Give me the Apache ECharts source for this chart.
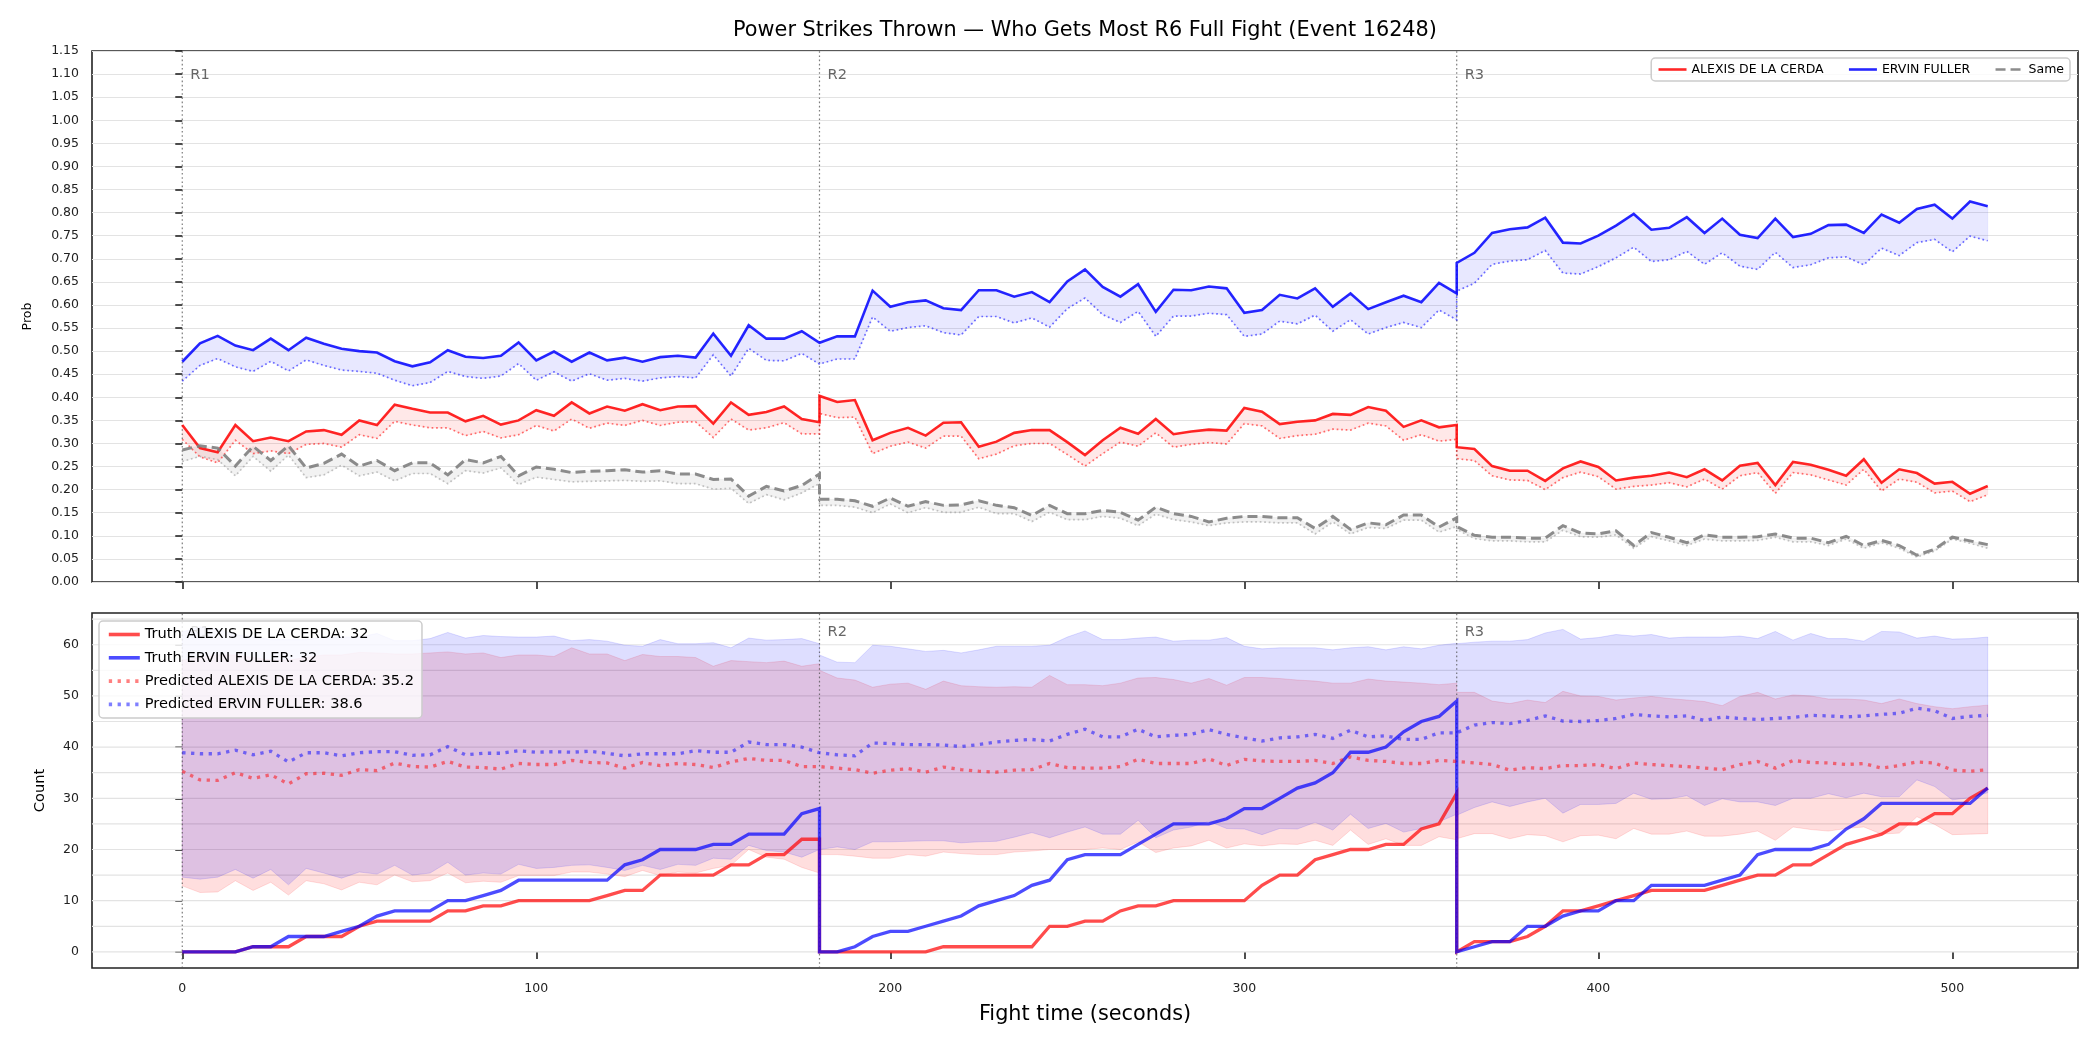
<!DOCTYPE html>
<html>
<head>
<meta charset="utf-8">
<title>Power Strikes Thrown</title>
<script src="https://cdn.jsdelivr.net/npm/echarts@6/dist/echarts.min.js"></script>
<style>
  html, body { margin: 0; padding: 0; background: #fff; }
  #chart { width: 2100px; height: 1050px; }
</style>
</head>
<body>
<div id="chart"></div>
<script>
// fight time in seconds; round boundaries (180, 360) appear twice: end of one round, start of the next
const fightTime = [
  0, 5, 10, 15, 20, 25, 30, 35, 40, 45, 50, 55, 60, 65, 70, 75, 80, 85, 90, 95, 100, 105, 110, 115, 120, 125, 130, 135, 140, 145, 150, 155, 160, 165, 170, 175, 180,
  180, 185, 190, 195, 200, 205, 210, 215, 220, 225, 230, 235, 240, 245, 250, 255, 260, 265, 270, 275, 280, 285, 290, 295, 300, 305, 310, 315, 320, 325, 330, 335, 340, 345, 350, 355, 360,
  360, 365, 370, 375, 380, 385, 390, 395, 400, 405, 410, 415, 420, 425, 430, 435, 440, 445, 450, 455, 460, 465, 470, 475, 480, 485, 490, 495, 500, 505, 510
];

const roundStart = [0, 180, 360];
const roundLabel = ['R1', 'R2', 'R3'];

const fighterRed = 'ALEXIS DE LA CERDA';
const fighterBlue = 'ERVIN FULLER';

// ---- top panel: probability of throwing the most power strikes ----
const redProb = [
  0.340, 0.290, 0.281, 0.340, 0.305, 0.313, 0.305, 0.326, 0.329, 0.319, 0.350, 0.340, 0.384, 0.375, 0.367, 0.367, 0.348, 0.360, 0.341, 0.350, 0.372, 0.360, 0.389, 0.365, 0.380, 0.371, 0.385, 0.372, 0.380, 0.381, 0.343, 0.389, 0.362, 0.368, 0.380, 0.353, 0.346,
  0.403, 0.390, 0.394, 0.307, 0.323, 0.334, 0.317, 0.345, 0.346, 0.293, 0.304, 0.323, 0.329, 0.329, 0.303, 0.275, 0.307, 0.334, 0.321, 0.353, 0.320, 0.326, 0.330, 0.328, 0.377, 0.369, 0.342, 0.347, 0.350, 0.364, 0.362, 0.379, 0.371, 0.336, 0.350, 0.335, 0.340,
  0.292, 0.288, 0.251, 0.241, 0.241, 0.219, 0.246, 0.261, 0.249, 0.220, 0.226, 0.230, 0.237, 0.227, 0.244, 0.220, 0.252, 0.258, 0.210, 0.260, 0.254, 0.243, 0.230, 0.266, 0.215, 0.244, 0.236, 0.213, 0.217, 0.191, 0.208
];
const redProbLow = [
  0.309, 0.271, 0.258, 0.307, 0.278, 0.284, 0.278, 0.298, 0.300, 0.292, 0.319, 0.311, 0.348, 0.340, 0.334, 0.334, 0.317, 0.326, 0.312, 0.319, 0.339, 0.327, 0.353, 0.333, 0.344, 0.339, 0.350, 0.339, 0.346, 0.347, 0.313, 0.353, 0.329, 0.334, 0.345, 0.321, 0.321,
  0.365, 0.356, 0.357, 0.278, 0.294, 0.303, 0.290, 0.316, 0.316, 0.267, 0.277, 0.295, 0.300, 0.300, 0.276, 0.251, 0.278, 0.303, 0.294, 0.323, 0.292, 0.298, 0.302, 0.299, 0.343, 0.338, 0.311, 0.317, 0.320, 0.331, 0.329, 0.344, 0.338, 0.307, 0.319, 0.305, 0.309,
  0.267, 0.263, 0.230, 0.221, 0.220, 0.200, 0.226, 0.238, 0.228, 0.201, 0.207, 0.210, 0.215, 0.206, 0.223, 0.201, 0.230, 0.237, 0.192, 0.237, 0.232, 0.221, 0.210, 0.244, 0.197, 0.223, 0.216, 0.193, 0.197, 0.174, 0.189
];
const blueProb = [
  0.477, 0.517, 0.533, 0.512, 0.502, 0.527, 0.502, 0.529, 0.516, 0.505, 0.500, 0.497, 0.478, 0.467, 0.476, 0.502, 0.488, 0.485, 0.490, 0.519, 0.480, 0.499, 0.477, 0.497, 0.480, 0.486, 0.477, 0.487, 0.490, 0.486, 0.538, 0.490, 0.556, 0.527, 0.527, 0.543, 0.518,
  0.518, 0.532, 0.532, 0.631, 0.596, 0.606, 0.610, 0.593, 0.589, 0.632, 0.632, 0.618, 0.628, 0.606, 0.651, 0.677, 0.639, 0.618, 0.645, 0.585, 0.633, 0.632, 0.640, 0.636, 0.583, 0.589, 0.622, 0.614, 0.636, 0.596, 0.625, 0.591, 0.606, 0.620, 0.606, 0.648, 0.625,
  0.691, 0.713, 0.756, 0.764, 0.768, 0.789, 0.735, 0.733, 0.750, 0.772, 0.797, 0.763, 0.767, 0.790, 0.756, 0.787, 0.752, 0.745, 0.787, 0.747, 0.754, 0.773, 0.774, 0.756, 0.796, 0.778, 0.808, 0.817, 0.787, 0.824, 0.814
];
const blueProbLow = [
  0.435, 0.469, 0.484, 0.466, 0.456, 0.478, 0.457, 0.481, 0.469, 0.459, 0.456, 0.452, 0.437, 0.425, 0.432, 0.456, 0.445, 0.441, 0.446, 0.473, 0.437, 0.455, 0.435, 0.451, 0.437, 0.441, 0.435, 0.442, 0.445, 0.442, 0.492, 0.446, 0.506, 0.480, 0.479, 0.495, 0.472,
  0.472, 0.483, 0.483, 0.574, 0.543, 0.551, 0.555, 0.540, 0.535, 0.575, 0.575, 0.561, 0.572, 0.552, 0.592, 0.615, 0.579, 0.562, 0.586, 0.532, 0.576, 0.576, 0.582, 0.579, 0.532, 0.537, 0.565, 0.559, 0.578, 0.543, 0.568, 0.537, 0.551, 0.562, 0.551, 0.589, 0.568,
  0.630, 0.647, 0.688, 0.695, 0.698, 0.718, 0.669, 0.667, 0.683, 0.702, 0.725, 0.694, 0.698, 0.716, 0.688, 0.713, 0.684, 0.677, 0.714, 0.681, 0.687, 0.702, 0.704, 0.687, 0.723, 0.707, 0.735, 0.742, 0.715, 0.749, 0.739
];
const sameProb = [
  0.286, 0.295, 0.290, 0.251, 0.294, 0.263, 0.295, 0.247, 0.257, 0.277, 0.251, 0.263, 0.241, 0.258, 0.258, 0.232, 0.265, 0.258, 0.272, 0.230, 0.249, 0.244, 0.237, 0.240, 0.241, 0.243, 0.238, 0.241, 0.234, 0.234, 0.222, 0.223, 0.186, 0.207, 0.197, 0.209, 0.234,
  0.179, 0.179, 0.176, 0.164, 0.182, 0.164, 0.174, 0.166, 0.167, 0.176, 0.166, 0.161, 0.144, 0.166, 0.148, 0.148, 0.155, 0.151, 0.134, 0.162, 0.148, 0.142, 0.130, 0.138, 0.142, 0.142, 0.139, 0.139, 0.116, 0.142, 0.114, 0.128, 0.124, 0.145, 0.145, 0.119, 0.139,
  0.120, 0.101, 0.097, 0.097, 0.095, 0.095, 0.122, 0.106, 0.104, 0.111, 0.079, 0.107, 0.097, 0.085, 0.102, 0.097, 0.097, 0.098, 0.104, 0.095, 0.095, 0.085, 0.099, 0.079, 0.090, 0.079, 0.058, 0.071, 0.097, 0.089, 0.081
];
const sameProbLow = [
  0.261, 0.272, 0.265, 0.230, 0.272, 0.240, 0.275, 0.226, 0.232, 0.253, 0.230, 0.238, 0.219, 0.235, 0.235, 0.213, 0.241, 0.236, 0.247, 0.211, 0.227, 0.222, 0.217, 0.218, 0.219, 0.220, 0.218, 0.219, 0.213, 0.213, 0.201, 0.203, 0.170, 0.189, 0.178, 0.193, 0.213,
  0.166, 0.166, 0.162, 0.150, 0.169, 0.150, 0.161, 0.151, 0.151, 0.162, 0.148, 0.148, 0.131, 0.151, 0.135, 0.135, 0.142, 0.138, 0.122, 0.147, 0.135, 0.130, 0.122, 0.128, 0.130, 0.130, 0.128, 0.128, 0.104, 0.130, 0.104, 0.118, 0.116, 0.134, 0.134, 0.108, 0.120,
  0.114, 0.094, 0.089, 0.089, 0.087, 0.087, 0.112, 0.098, 0.097, 0.102, 0.073, 0.098, 0.089, 0.079, 0.093, 0.089, 0.089, 0.090, 0.097, 0.087, 0.087, 0.079, 0.093, 0.073, 0.085, 0.073, 0.054, 0.067, 0.093, 0.084, 0.073
];

// ---- bottom panel: cumulative power strikes per round ----
const truthRed = [
  0, 0, 0, 0, 1, 1, 1, 3, 3, 3, 5, 6, 6, 6, 6, 8, 8, 9, 9, 10, 10, 10, 10, 10, 11, 12, 12, 15, 15, 15, 15, 17, 17, 19, 19, 22, 22,
  0, 0, 0, 0, 0, 0, 0, 1, 1, 1, 1, 1, 1, 5, 5, 6, 6, 8, 9, 9, 10, 10, 10, 10, 10, 13, 15, 15, 18, 19, 20, 20, 21, 21, 24, 25, 31,
  0, 2, 2, 2, 3, 5, 8, 8, 9, 10, 11, 12, 12, 12, 12, 13, 14, 15, 15, 17, 17, 19, 21, 22, 23, 25, 25, 27, 27, 30, 32
];
const truthBlue = [
  0, 0, 0, 0, 1, 1, 3, 3, 3, 4, 5, 7, 8, 8, 8, 10, 10, 11, 12, 14, 14, 14, 14, 14, 14, 17, 18, 20, 20, 20, 21, 21, 23, 23, 23, 27, 28,
  0, 0, 1, 3, 4, 4, 5, 6, 7, 9, 10, 11, 13, 14, 18, 19, 19, 19, 21, 23, 25, 25, 25, 26, 28, 28, 30, 32, 33, 35, 39, 39, 40, 43, 45, 46, 49,
  0, 1, 2, 2, 5, 5, 7, 8, 8, 10, 10, 13, 13, 13, 13, 14, 15, 19, 20, 20, 20, 21, 24, 26, 29, 29, 29, 29, 29, 29, 32
];
const predRed = [
  35.3, 33.6, 33.5, 35.0, 33.9, 34.6, 32.8, 34.8, 34.9, 34.5, 35.6, 35.4, 36.9, 36.2, 36.1, 37.2, 36.1, 36.0, 35.7, 36.8, 36.6, 36.6, 37.4, 37.0, 36.9, 35.9, 37.0, 36.4, 36.8, 36.6, 36.0, 37.1, 37.8, 37.4, 37.4, 36.2, 36.2,
  36.2, 35.9, 35.6, 34.9, 35.5, 35.8, 35.1, 36.1, 35.6, 35.3, 35.1, 35.5, 35.6, 36.8, 36.0, 35.9, 35.9, 36.2, 37.6, 36.8, 36.8, 36.8, 37.7, 36.4, 37.6, 37.3, 37.2, 37.2, 37.4, 36.8, 38.1, 37.4, 37.2, 36.8, 36.8, 37.4, 37.2,
  37.2, 36.9, 36.6, 35.5, 36.0, 35.8, 36.4, 36.4, 36.6, 35.8, 36.9, 36.6, 36.4, 36.2, 35.9, 35.6, 36.6, 37.2, 35.9, 37.4, 37.0, 36.9, 36.6, 36.8, 35.9, 36.4, 37.1, 36.9, 35.5, 35.3, 35.6
];
const predBlue = [
  38.9, 38.7, 38.7, 39.4, 38.5, 39.2, 37.1, 38.9, 38.9, 38.3, 38.9, 39.1, 39.1, 38.4, 38.5, 40.1, 38.5, 38.8, 38.8, 39.3, 39.0, 39.1, 39.0, 39.2, 38.8, 38.3, 38.7, 38.7, 38.7, 39.3, 39.0, 39.0, 41.0, 40.5, 40.5, 40.0, 38.9,
  38.9, 38.5, 38.3, 40.8, 40.7, 40.5, 40.5, 40.4, 40.1, 40.5, 41.0, 41.3, 41.5, 41.2, 42.5, 43.5, 42.0, 42.0, 43.5, 42.0, 42.3, 42.5, 43.4, 42.5, 41.8, 41.2, 41.8, 42.0, 42.5, 41.7, 43.3, 42.0, 42.2, 41.5, 41.5, 42.8, 42.8,
  42.8, 44.3, 44.8, 44.6, 45.2, 46.1, 45.1, 45.0, 45.2, 45.6, 46.4, 46.1, 45.9, 46.1, 45.2, 45.9, 45.6, 45.4, 45.6, 45.8, 46.2, 46.1, 45.9, 46.1, 46.4, 46.6, 47.6, 47.1, 45.6, 46.0, 46.2
];
const redLow = [
  12.9, 11.6, 11.7, 13.9, 12.0, 13.6, 11.1, 13.9, 13.3, 12.1, 13.6, 13.1, 15.0, 13.7, 13.9, 15.4, 13.5, 13.8, 13.6, 14.9, 14.9, 14.9, 15.6, 15.6, 15.2, 14.7, 15.9, 14.9, 15.6, 15.4, 16.3, 16.9, 20.0, 18.5, 18.1, 16.5, 15.4,
  19.0, 19.0, 18.7, 18.3, 18.3, 19.0, 18.7, 19.5, 19.2, 19.0, 19.0, 19.5, 19.7, 20.0, 20.0, 20.0, 20.3, 20.0, 21.5, 19.4, 20.3, 20.7, 21.8, 20.3, 21.1, 20.7, 21.1, 21.0, 21.8, 20.8, 23.8, 21.0, 22.1, 20.8, 20.8, 22.5, 21.9,
  22.1, 23.1, 23.1, 22.1, 22.9, 22.7, 21.5, 22.7, 22.8, 22.1, 24.1, 23.0, 23.0, 23.6, 22.6, 22.6, 23.0, 23.6, 21.8, 24.4, 23.9, 23.6, 24.1, 24.4, 23.0, 23.2, 26.4, 24.9, 22.9, 23.0, 23.1
];
const redHigh = [
  57.0, 57.5, 58.0, 58.0, 57.5, 57.0, 57.0, 57.5, 58.0, 58.0, 58.5, 58.4, 58.2, 58.2, 58.4, 58.6, 58.2, 58.4, 57.5, 58.0, 58.0, 57.7, 59.4, 58.2, 58.2, 56.9, 58.1, 57.7, 57.7, 57.5, 55.8, 56.9, 56.7, 56.5, 56.8, 55.8, 56.3,
  55.0, 53.5, 53.1, 51.7, 52.3, 52.5, 51.3, 52.9, 52.0, 51.8, 51.7, 51.8, 51.7, 54.0, 52.2, 52.2, 52.0, 52.5, 53.5, 53.6, 53.2, 52.5, 53.4, 52.1, 53.6, 53.6, 53.4, 53.1, 52.9, 52.5, 52.5, 53.3, 52.9, 52.7, 52.5, 52.2, 52.5,
  50.7, 50.7, 49.0, 48.5, 49.2, 48.7, 50.9, 50.0, 49.9, 49.2, 49.6, 49.9, 49.5, 49.2, 48.9, 48.1, 49.9, 50.7, 49.4, 50.2, 50.0, 49.4, 49.4, 49.2, 48.5, 49.4, 48.5, 47.9, 47.5, 47.9, 48.2
];
const blueLow = [
  14.6, 14.2, 14.6, 16.1, 14.4, 16.1, 13.1, 16.3, 15.4, 14.4, 15.6, 15.2, 16.9, 15.0, 15.4, 17.5, 15.0, 15.4, 15.2, 17.1, 16.3, 16.5, 16.9, 17.0, 16.5, 15.9, 16.9, 16.1, 17.1, 16.9, 18.3, 18.1, 20.8, 19.8, 19.5, 18.5, 20.0,
  20.0, 20.5, 20.0, 21.5, 21.5, 21.6, 21.7, 21.7, 21.3, 21.5, 21.6, 22.4, 23.3, 22.3, 23.4, 24.4, 23.0, 23.0, 25.7, 22.3, 23.8, 24.4, 25.5, 24.1, 24.0, 22.9, 24.1, 24.0, 25.3, 23.8, 26.9, 24.1, 25.1, 23.4, 24.1, 25.4, 26.9,
  26.7, 28.2, 29.3, 28.4, 29.3, 30.0, 27.1, 28.8, 28.8, 29.0, 31.0, 29.8, 29.9, 30.5, 28.6, 29.9, 29.3, 29.3, 28.6, 30.0, 30.0, 30.9, 30.1, 31.0, 30.3, 30.3, 33.6, 32.3, 29.7, 30.1, 31.1
];
const blueHigh = [
  62.5, 63.5, 63.0, 62.0, 61.5, 61.0, 61.0, 61.0, 61.5, 61.5, 61.5, 62.2, 60.8, 60.8, 61.2, 62.4, 61.3, 61.8, 61.6, 61.5, 61.5, 61.7, 60.8, 61.0, 60.7, 59.9, 59.7, 61.0, 60.2, 60.2, 60.4, 59.4, 61.3, 60.9, 61.0, 61.2, 60.2,
  58.0, 56.6, 56.5, 59.9, 59.7, 59.2, 58.7, 58.9, 58.4, 59.0, 59.7, 59.7, 59.7, 59.9, 61.5, 62.7, 61.0, 61.0, 61.3, 61.5, 60.7, 60.9, 60.9, 61.4, 59.7, 59.2, 59.4, 59.4, 59.4, 59.0, 59.4, 59.6, 59.0, 59.6, 59.2, 59.9, 60.3,
  60.2, 60.5, 60.7, 60.7, 61.0, 62.3, 63.0, 61.1, 61.4, 62.0, 61.7, 62.0, 61.3, 61.5, 61.5, 61.5, 61.7, 61.2, 62.6, 60.9, 62.2, 61.2, 61.2, 60.7, 62.6, 62.5, 61.3, 61.7, 61.1, 61.2, 61.5
];
const truthTotal = { red: 32, blue: 32 };
const predTotal = { red: 35.2, blue: 38.6 };

const timeTicks = [0, 100, 200, 300, 400, 500];
const countTicks = [0, 10, 20, 30, 40, 50, 60];
const countGrid = [0, 5, 10, 15, 20, 25, 30, 35, 40, 45, 50, 55, 60, 65];

const FONT = 'DejaVu Sans';
const X_MIN = -25.5, X_MAX = 535.5;
const PROB_MIN = 0, PROB_MAX = 1.15;
const COUNT_MIN = -3.15, COUNT_MAX = 66.2;

const pairs = vals => fightTime.map((t, i) => [t, vals[i]]);

// filled area between two series, drawn as one polygon through the axis scales
function band(name, low, high, fill, stroke, grid) {
    return {
        name: name,
        type: 'custom',
        xAxisIndex: grid,
        yAxisIndex: grid,
        silent: true,
        data: [[0, 0]],
        renderItem: function(params, api) {
            const pts = [];
            for (let i = 0; i < fightTime.length; i++) pts.push(api.coord([fightTime[i], high[i]]));
            for (let i = fightTime.length - 1; i >= 0; i--) pts.push(api.coord([fightTime[i], low[i]]));
            return {
                type: 'polygon',
                shape: { points: pts },
                style: { fill: fill, stroke: stroke, lineWidth: 1 }
            };
        }
    };
}

function line(name, vals, color, width, dash, grid) {
    return {
        name: name,
        type: 'line',
        xAxisIndex: grid,
        yAxisIndex: grid,
        data: pairs(vals),
        symbol: 'none',
        silent: true,
        lineStyle: { color: color, width: width, type: dash || 'solid', cap: 'butt', join: 'miter' },
        itemStyle: { color: color }
    };
}

// dotted vertical lines at round starts with R1/R2/R3 labels
function roundMarkers(grid, yMin, yMax, labelDrop) {
    return {
        name: 'rounds' + grid,
        type: 'custom',
        xAxisIndex: grid,
        yAxisIndex: grid,
        silent: true,
        data: roundStart.map((t, i) => [t, yMin]),
        renderItem: function(params, api) {
            const t = api.value(0);
            const p0 = api.coord([t, yMin]);
            const p1 = api.coord([t, yMax]);
            return {
                type: 'group',
                children: [
                    {
                        type: 'line',
                        shape: { x1: p0[0], y1: p0[1], x2: p1[0], y2: p1[1] },
                        style: { stroke: 'rgba(80,80,80,0.75)', lineWidth: 1.2, lineDash: [1.6, 2.6] }
                    },
                    {
                        type: 'text',
                        x: p1[0] + 8,
                        y: p1[1] + labelDrop,
                        style: {
                            text: roundLabel[params.dataIndex],
                            fill: '#666666',
                            fontSize: 14.6,
                            fontFamily: FONT,
                            verticalAlign: 'middle'
                        }
                    }
                ]
            };
        }
    };
}

const countGridLines = {
    name: 'countGrid',
    type: 'custom',
    xAxisIndex: 1,
    yAxisIndex: 1,
    silent: true,
    data: countGrid.map(v => [0, v]),
    renderItem: function(params, api) {
        const v = api.value(1);
        const a = api.coord([X_MIN, v]);
        const b = api.coord([X_MAX, v]);
        return {
            type: 'line',
            shape: { x1: a[0], y1: a[1], x2: b[0], y2: b[1] },
            style: { stroke: '#e3e3e3', lineWidth: 1.2 }
        };
    }
};

const RED = 'rgba(255,0,0,0.85)';
const BLUE = 'rgba(0,0,255,0.85)';

const nameTruthRed = 'Truth ' + fighterRed + ': ' + truthTotal.red;
const nameTruthBlue = 'Truth ' + fighterBlue + ': ' + truthTotal.blue;
const namePredRed = 'Predicted ' + fighterRed + ': ' + predTotal.red;
const namePredBlue = 'Predicted ' + fighterBlue + ': ' + predTotal.blue;

const tickStyle = { color: '#222', width: 1.6 };
const labelStyle = { color: '#222', fontSize: 12.5, fontFamily: FONT };

const option = {
    animation: false,
    backgroundColor: '#ffffff',
    textStyle: { fontFamily: FONT },
    graphic: [{
        type: 'text',
        x: 1085,
        y: 31,
        style: {
            text: 'Power Strikes Thrown \u2014 Who Gets Most R6 Full Fight (Event 16248)',
            fontSize: 20.8,
            fontFamily: FONT,
            fill: '#000',
            align: 'center',
            verticalAlign: 'middle'
        }
    }],
    grid: [
        { left: 92, top: 51, width: 1986, height: 531, show: true, borderColor: '#222', borderWidth: 1.6, backgroundColor: 'transparent' },
        { left: 92, top: 613, width: 1986, height: 355, show: true, borderColor: '#222', borderWidth: 1.6, backgroundColor: 'transparent' }
    ],
    legend: [
        {
            data: [fighterRed, fighterBlue, 'Same'],
            orient: 'horizontal',
            right: 30,
            top: 58,
            itemWidth: 28,
            itemHeight: 10,
            itemGap: 24,
            padding: [5, 6],
            itemStyle: { opacity: 0 },
            lineStyle: { width: 2.6 },
            backgroundColor: 'rgba(255,255,255,0.8)',
            borderColor: '#cccccc',
            borderWidth: 1.5,
            borderRadius: 4,
            textStyle: { fontSize: 12.5, color: '#000', fontFamily: FONT }
        },
        {
            data: [nameTruthRed, nameTruthBlue, namePredRed, namePredBlue],
            orient: 'vertical',
            left: 99,
            top: 621,
            itemWidth: 31,
            itemHeight: 14,
            itemGap: 8.3,
            padding: [6, 8],
            itemStyle: { opacity: 0 },
            lineStyle: { width: 3.6 },
            backgroundColor: 'rgba(255,255,255,0.8)',
            borderColor: '#cccccc',
            borderWidth: 1.5,
            borderRadius: 4,
            textStyle: { fontSize: 14.6, color: '#000', fontFamily: FONT }
        }
    ],
    xAxis: [
        {
            type: 'value', gridIndex: 0, min: X_MIN, max: X_MAX,
            axisLine: { show: false },
            axisTick: { show: true, customValues: timeTicks, length: 7, lineStyle: tickStyle },
            axisLabel: { show: false },
            splitLine: { show: false }
        },
        {
            type: 'value', gridIndex: 1, min: X_MIN, max: X_MAX,
            axisLine: { show: false },
            axisTick: { show: true, customValues: timeTicks, length: 7, lineStyle: tickStyle },
            axisLabel: Object.assign({ customValues: timeTicks, margin: 14 }, labelStyle),
            splitLine: { show: false },
            name: 'Fight time (seconds)',
            nameLocation: 'middle',
            nameGap: 36,
            nameTextStyle: { fontSize: 20.8, color: '#000', fontFamily: FONT }
        }
    ],
    yAxis: [
        {
            type: 'value', gridIndex: 0, min: PROB_MIN, max: PROB_MAX, interval: 0.05,
            axisLine: { show: false },
            axisTick: { show: true, length: 7, lineStyle: tickStyle },
            axisLabel: Object.assign({ margin: 13, formatter: v => v.toFixed(2) }, labelStyle),
            splitLine: { show: true, lineStyle: { color: '#e3e3e3', width: 1.2 } },
            name: 'Prob',
            nameLocation: 'middle',
            nameGap: 58,
            nameTextStyle: { fontSize: 12.5, color: '#000', fontFamily: FONT }
        },
        {
            type: 'value', gridIndex: 1, min: COUNT_MIN, max: COUNT_MAX,
            axisLine: { show: false },
            axisTick: { show: true, customValues: countTicks, length: 7, lineStyle: tickStyle },
            axisLabel: Object.assign({ customValues: countTicks, margin: 13 }, labelStyle),
            splitLine: { show: false },
            name: 'Count',
            nameLocation: 'middle',
            nameGap: 44,
            nameTextStyle: { fontSize: 14.6, color: '#000', fontFamily: FONT }
        }
    ],
    series: [
        // top panel
        band('blueBand', blueProbLow, blueProb, 'rgba(0,0,255,0.09)', 'rgba(0,0,255,0.06)', 0),
        band('redBand', redProbLow, redProb, 'rgba(255,0,0,0.09)', 'rgba(255,0,0,0.06)', 0),
        band('sameBand', sameProbLow, sameProb, 'rgba(128,128,128,0.1)', 'rgba(128,128,128,0.06)', 0),
        roundMarkers(0, PROB_MIN, PROB_MAX, 24),
        line(fighterRed, redProb, RED, 2.6, null, 0),
        line('redLow', redProbLow, 'rgba(255,0,0,0.55)', 1.7, [1.7, 2.8], 0),
        line(fighterBlue, blueProb, BLUE, 2.6, null, 0),
        line('blueLow', blueProbLow, 'rgba(0,0,255,0.55)', 1.7, [1.7, 2.8], 0),
        line('Same', sameProb, 'rgba(128,128,128,0.9)', 3, [10, 5], 0),
        line('sameLow', sameProbLow, 'rgba(150,150,150,0.55)', 1.7, [1.7, 2.8], 0),
        // bottom panel
        countGridLines,
        band('redRange', redLow, redHigh, 'rgba(255,0,0,0.13)', 'rgba(255,0,0,0.12)', 1),
        band('blueRange', blueLow, blueHigh, 'rgba(0,0,255,0.13)', 'rgba(0,0,255,0.12)', 1),
        roundMarkers(1, COUNT_MIN, COUNT_MAX, 19),
        line(nameTruthRed, truthRed, 'rgba(255,0,0,0.7)', 3.3, null, 1),
        line(nameTruthBlue, truthBlue, 'rgba(0,0,255,0.7)', 3.3, null, 1),
        line(namePredRed, predRed, 'rgba(255,0,0,0.5)', 3.3, [3.3, 5.5], 1),
        line(namePredBlue, predBlue, 'rgba(0,0,255,0.5)', 3.3, [3.3, 5.5], 1)
    ]
};

const chart = echarts.init(document.getElementById('chart'));
chart.setOption(option);
</script>
</body>
</html>
